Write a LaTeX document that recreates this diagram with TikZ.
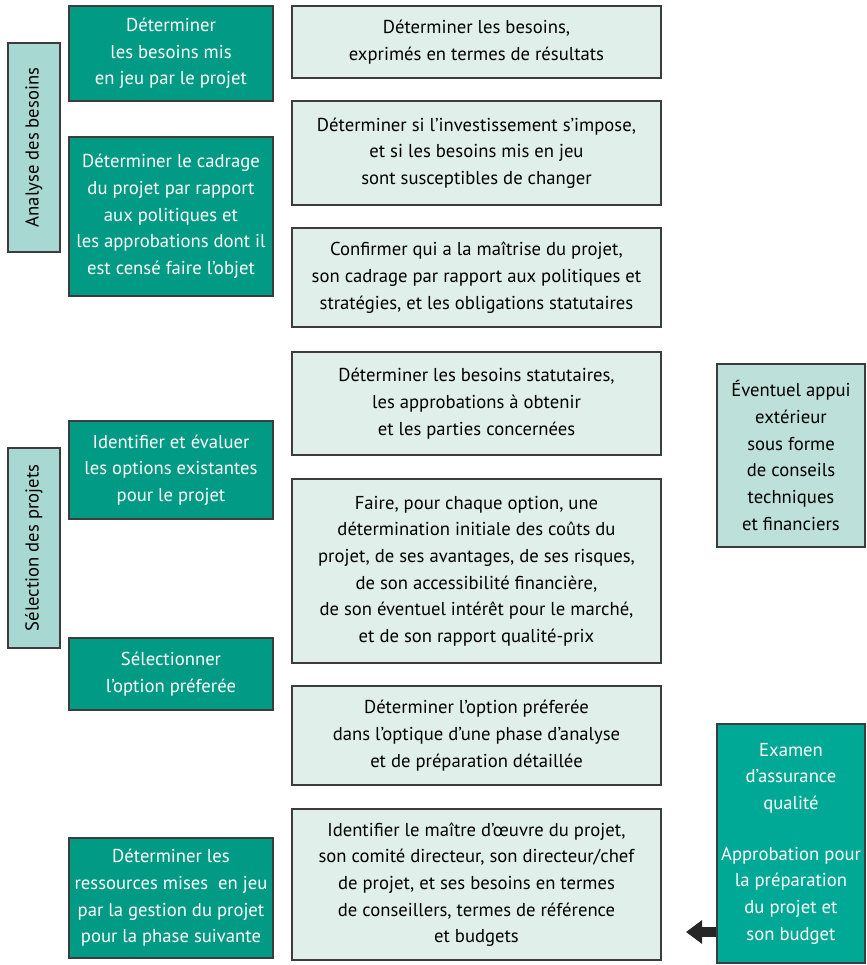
\documentclass[tikz,border=0pt]{standalone}
\usepackage{fontspec}
\setmainfont{PT Sans}
\usetikzlibrary{arrows.meta}
\definecolor{darkteal}{HTML}{009A85}
\definecolor{brightteal}{HTML}{00A896}
\definecolor{paleteal}{HTML}{E1EFEB}
\definecolor{midteal}{HTML}{A7D8D1}
\definecolor{softteal}{HTML}{BDE1DA}
\definecolor{edge}{HTML}{3C3C3C}
\begin{document}
\begin{tikzpicture}[x=0.75pt,y=-0.75pt,
  every node/.style={font=\fontsize{14}{20}\selectfont, align=center, inner sep=0pt},
  phase/.style={draw=edge, line width=0.9pt, fill=midteal, rotate=90, minimum width=#1, minimum height=39pt},
  action/.style={draw=edge, line width=0.9pt, fill=darkteal, text=white, minimum width=153pt, minimum height=#1},
  result/.style={draw=edge, line width=0.9pt, fill=paleteal, minimum width=276.75pt, minimum height=#1},
  advice/.style={draw=edge, line width=0.9pt, fill=softteal, minimum width=111pt, minimum height=#1},
  review/.style={draw=edge, line width=0.9pt, fill=brightteal, text=white, minimum width=111pt, minimum height=#1}]

\useasboundingbox (0,0) rectangle (867,965);

\node[phase=156.75pt] (analyse) at (34,147.5) {Analyse des besoins};
\node[phase=150pt] (selection) at (34,548) {Sélection des projets};

\node[action=71.25pt] (besoins) at (171,53.5) {Déterminer\\ les besoins mis\\ en jeu par le projet};
\node[action=119.25pt] (cadrage) at (171,216.5) {Déterminer le cadrage\\ du projet par rapport\\ aux politiques et\\ les approbations dont il\\ est censé faire l’objet};
\node[action=73.5pt] (options) at (171,470) {Identifier et évaluer\\ les options existantes\\ pour le projet};
\node[action=54pt] (choix) at (171,674) {Sélectionner\\ l’option préferée};
\node[action=90pt] (ressources) at (171,898) {Déterminer les\\ ressources mises\ \ en jeu\\ par la gestion du projet\\ pour la phase suivante};

\node[result=54pt] (resultats) at (476.5,42) {Déterminer les besoins,\\ exprimés en termes de résultats};
\node[result=78pt] (investir) at (476.5,153) {Déterminer si l’investissement s’impose,\\ et si les besoins mis en jeu\\ sont susceptibles de changer};
\node[result=74.25pt] (maitrise) at (476.5,277.5) {Confirmer qui a la maîtrise du projet,\\ son cadrage par rapport aux politiques et\\ stratégies, et les obligations statutaires};
\node[result=77.25pt] (statut) at (476.5,403.5) {Déterminer les besoins statutaires,\\ les approbations à obtenir\\ et les parties concernées};
\node[result=138pt] (couts) at (476.5,571) {Faire, pour chaque option, une\\ détermination initiale des coûts du\\ projet, de ses avantages, de ses risques,\\ de son accessibilité financière,\\ de son éventuel intérêt pour le marché,\\ et de son rapport qualité-prix};
\node[result=74.25pt] (preferee) at (476.5,735.5) {Déterminer l’option préferée\\ dans l’optique d’une phase d’analyse\\ et de préparation détaillée};
\node[result=113.25pt] (maitre) at (476.5,884.5) {Identifier le maître d’œuvre du projet,\\ son comité directeur, son directeur/chef\\ de projet, et ses besoins en termes\\ de conseillers, termes de référence\\ et budgets};

\node[advice=137.25pt] (appui) at (791,455.5) {Éventuel appui\\ extérieur\\ sous forme\\ de conseils\\ techniques\\ et financiers};
\node[review=179.25pt] (examen) at (791,843.5) {Examen\\ d’assurance\\ qualité\\[18pt] Approbation pour\\ la préparation\\ du projet et\\ son budget};

\coordinate (retour) at (686,932);
\draw[line width=7.5pt, black!85, -{Triangle[length=12pt, width=17pt]}] (examen.west |- retour) -- (retour);

\end{tikzpicture}
\end{document}
